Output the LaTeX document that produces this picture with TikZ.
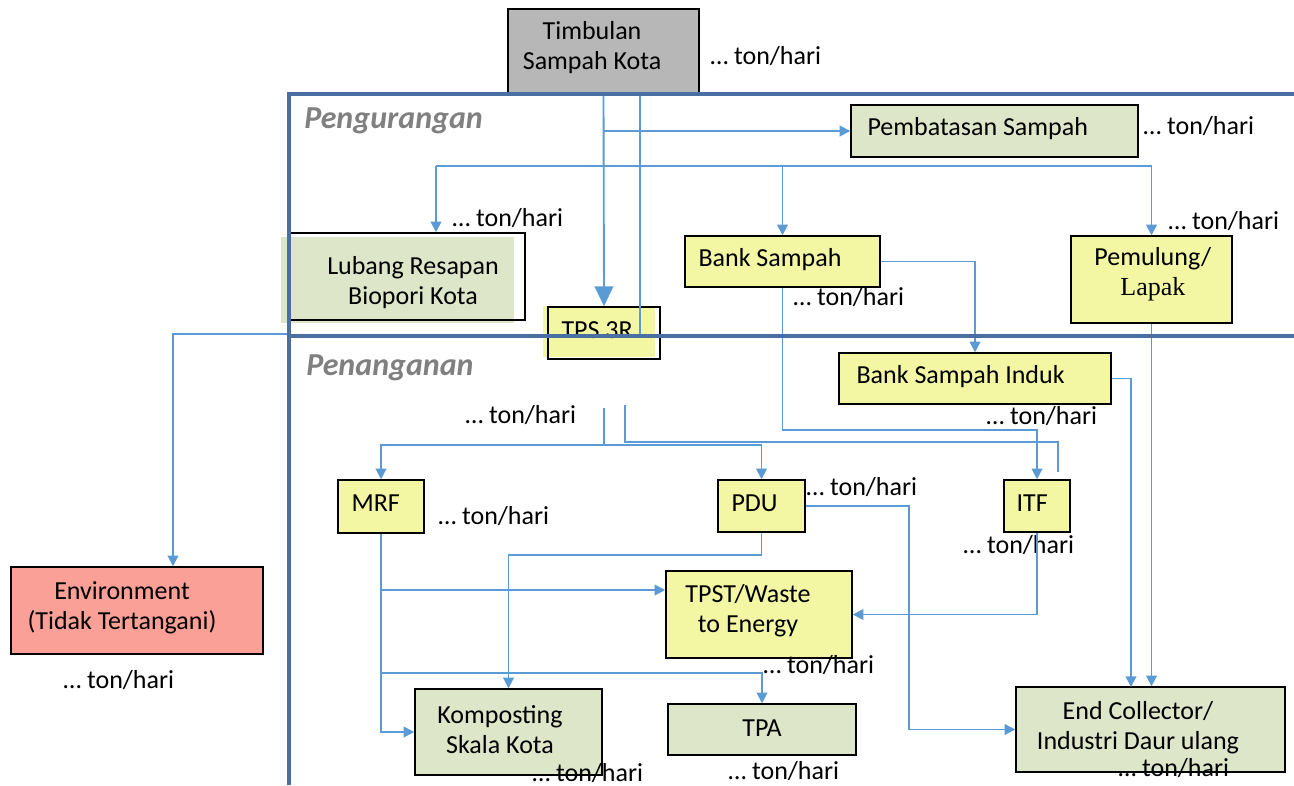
\documentclass[tikz,border=0pt]{standalone}
\usepackage{fontspec}
\setmainfont{Carlito}
\newfontfamily\serifx{Liberation Serif}
\usetikzlibrary{arrows.meta}
\definecolor{cline}{RGB}{91,155,213}
\definecolor{frameblue}{RGB}{74,112,163}
\definecolor{fyel}{RGB}{243,247,163}
\definecolor{fgrn}{RGB}{221,230,200}
\definecolor{fgry}{RGB}{183,183,183}
\definecolor{fred}{RGB}{250,160,150}
\definecolor{secgray}{RGB}{128,128,128}
\begin{document}
\begin{tikzpicture}[x=0.75pt,y=-0.75pt,
  every node/.style={font=\fontsize{19.5}{22.5}\selectfont},
  box/.style={draw=black, line width=1.1pt, rectangle, inner sep=0pt},
  plain/.style={rectangle, inner sep=0pt, draw=none},
  sz/.style 2 args={minimum width=#1*0.75pt, minimum height=#2*0.75pt},
  lab/.style={inner sep=0pt, align=center, font=\fontsize{19.5}{22.5}\selectfont},
  labw/.style={lab, anchor=west},
  rate/.style={inner sep=0pt, anchor=west},
  sec/.style={inner sep=0pt, anchor=west, text=secgray, font=\fontsize{24}{28}\selectfont\bfseries\itshape},
  conn/.style={draw=cline, line width=1.4pt},
  arr/.style={conn, -{Triangle[length=8pt,width=8pt]}},
  bigarr/.style={conn, -{Triangle[length=15pt,width=14pt]}},
  framel/.style={draw=frameblue, line width=3pt}
]
\useasboundingbox (0,0) rectangle (1294,785);

% ---------- boxes ----------
\node[box, fill=fgry, sz={191}{84},
  label={[lab,xshift=-8.6pt,yshift=2.25pt]center:{Timbulan\\Sampah Kota}}] (timb) at (603.5,51) {};

\node[box, fill=fgrn, sz={287}{52},
  label={[labw,xshift=12.75pt,yshift=1.5pt]west:Pembatasan Sampah}] (pemb) at (994.5,131) {};

\node[plain, fill=fgrn, sz={233}{86}] (lubfill) at (397.5,280) {};
\node[box, sz={236}{87},
  label={[lab,xshift=4.5pt,yshift=-4.5pt]center:{Lubang Resapan\\Biopori Kota}}] (lub) at (407,276.5) {};

\node[plain, fill=fyel, sz={112}{51}] (tpsfill) at (599,331.5) {};
\node[box, sz={112}{52},
  label={[labw,xshift=10.5pt,yshift=2.5pt]west:TPS 3R}] (tps) at (604,333) {};

\node[box, fill=fyel, sz={195}{51},
  label={[labw,xshift=10.5pt,yshift=1.1pt]west:Bank Sampah}] (bank) at (782.5,261.5) {};

\node[box, fill=fyel, sz={161}{87},
  label={[lab,xshift=1pt,yshift=4pt]center:{Pemulung/\\{\serifx Lapak}}}] (pem) at (1151.5,279.5) {};

\node[box, fill=fyel, sz={272}{51},
  label={[labw,xshift=13.5pt,yshift=1.1pt]west:Bank Sampah Induk}] (bsi) at (975,378.5) {};

\node[box, fill=fyel, sz={86}{53},
  label={[labw,xshift=10.5pt,yshift=2.6pt]west:MRF}] (mrf) at (381,506.5) {};

\node[box, fill=fyel, sz={87}{52},
  label={[labw,xshift=10.5pt,yshift=2.2pt]west:PDU}] (pdu) at (761.5,506) {};

\node[box, fill=fyel, sz={66}{52},
  label={[labw,xshift=9.75pt,yshift=2.2pt]west:ITF}] (itf) at (1037,506) {};

\node[box, fill=fyel, sz={186}{87},
  label={[lab,xshift=-8.25pt,yshift=2.6pt]center:{TPST/Waste\\to Energy}}] (tpst) at (759,614.5) {};

\node[box, fill=fred, sz={252}{87},
  label={[lab,xshift=-11.25pt,yshift=1.9pt]center:{Environment\\(Tidak Tertangani)}}] (env) at (137,610.5) {};

\node[box, fill=fgrn, sz={187}{86},
  label={[lab,xshift=-6.4pt,yshift=1.5pt]center:{Komposting\\Skala Kota}}] (komp) at (508.5,732) {};

\node[box, fill=fgrn, sz={188}{51},
  label={[lab,yshift=1.1pt]center:TPA}] (tpa) at (762,729.5) {};

\node[box, fill=fgrn, sz={269}{85},
  label={[lab,xshift=-9.4pt,yshift=1.5pt]center:{End Collector/\\Industri Daur ulang}}] (ec) at (1150.5,729.5) {};

% ---------- rate labels ----------
\node[rate] (r1) at (710,56) {… ton/hari};
\node[rate] (r2) at (1143,126) {… ton/hari};
\node[rate] (r3) at (452,218) {… ton/hari};
\node[rate] (r4) at (1168,221) {… ton/hari};
\node[rate] (r5) at (793,297) {… ton/hari};
\node[rate] (r6) at (465,415) {… ton/hari};
\node[rate] (r7) at (986,416) {… ton/hari};
\node[rate] (r8) at (806,487) {… ton/hari};
\node[rate] (r9) at (438,516) {… ton/hari};
\node[rate] (r10) at (963,545) {… ton/hari};
\node[rate] (r11) at (763,665) {… ton/hari};
\node[rate] (r12) at (63,680) {… ton/hari};
\node[rate] (r13) at (532,773) {… ton/hari};
\node[rate] (r14) at (728,771) {… ton/hari};
\node[rate] (r15) at (1118,768) {… ton/hari};

% ---------- section titles ----------
\node[sec] (sred) at (304,121) {Pengurangan};
\node[sec] (shan) at (306,368) {Penanganan};

% ---------- connectors ----------
\coordinate (b1) at (640,336);
\coordinate (j1) at (436,166);
\coordinate (e0) at (290,334);
\coordinate (e1) at (173,334);
\coordinate (k1) at (782.5,430);
\coordinate (s1) at (604,408);
\coordinate (s1b) at (604,445);
\coordinate (s2) at (625,405);
\coordinate (s4) at (1058,442);
\coordinate (s3) at (1058,472);
\coordinate (m1) at (381,590);
\coordinate (m2) at (381,673);
\coordinate (p1) at (761.5,555);
\coordinate (p2) at (909,506);
\coordinate (c1) at (1131,687);

\draw[bigarr] (timb.south) -- (tps.north);
\draw[conn] (timb.south -| b1) -- (b1);
\draw[arr] (timb.south |- pemb.west) -- (pemb.west);
\draw[conn] (j1) -- (pem.north |- j1);
\draw[arr] (j1) -- (j1 |- lub.north);
\draw[arr] (bank.north |- j1) -- (bank.north);
\draw[arr] (pem.north |- j1) -- (pem.north);

\draw[arr] (e0) -- (e1) -- (e1 |- env.north);

\draw[arr] (bank.east) -| (bsi.north);
\draw[arr] (bank.south) -- (k1) -| (itf.north);

\draw[conn] (s1) -- (s1b);
\draw[arr] (s1b) -| (mrf.north);
\draw[arr] (s1b) -| (pdu.north);
\draw[conn] (s2) |- (s4) -- (s3);

\draw[arr] (mrf.south) |- (komp.west);
\draw[arr] (m1) -- (m1 -| tpst.west);
\draw[arr] (m2) -| (tpa.north);

\draw[arr] (pdu.south) -- (p1) -| (komp.north);
\draw[arr] (pdu.east) -- (p2) |- (ec.west);

\draw[arr] (itf.south) |- (tpst.east);
\draw[arr] (bsi.east) -| (c1);
\draw[arr] (pem.south) -- (pem.south |- ec.north);

% ---------- frame ----------
\draw[framel] (1294,94) -- (289,94) -- (289,785);
\draw[framel] (289,336) -- (1294,336);
\end{tikzpicture}
\end{document}
